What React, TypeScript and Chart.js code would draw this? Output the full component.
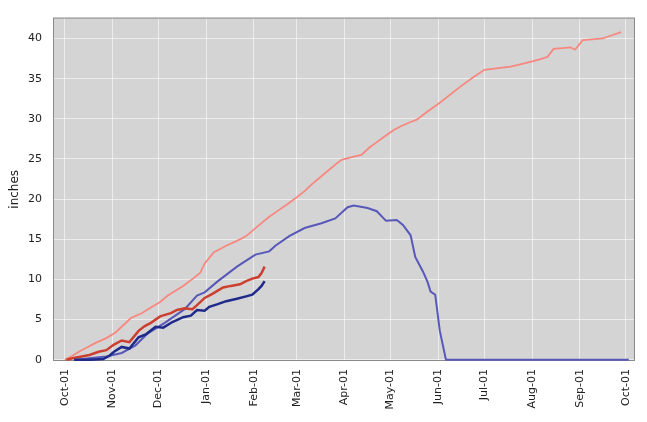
import React, { useEffect, useRef } from "react";
import { Chart, registerables } from "chart.js";

Chart.register(...registerables);

// Days since Oct-01
const monthTickDays = [0, 31, 61, 92, 123, 151, 182, 212, 243, 273, 304, 335, 365];
const monthLabels = ["Oct-01", "Nov-01", "Dec-01", "Jan-01", "Feb-01", "Mar-01", "Apr-01", "May-01", "Jun-01", "Jul-01", "Aug-01", "Sep-01", "Oct-01"];
const yTicks = [0, 5, 10, 15, 20, 25, 30, 35, 40];

const precipDays = [0, 5, 10, 15, 20, 27, 33, 38, 43, 50, 56, 62, 67, 72, 77, 84, 88, 91, 97, 101, 105, 112, 118, 126, 133, 139, 145, 150, 156, 161, 166, 171, 176, 180, 186, 193, 198, 203, 208, 214, 219, 225, 229, 236, 244, 252, 258, 266, 273, 282, 290, 295, 303, 309, 314, 318, 324, 329, 332, 337, 343, 350, 356, 362];
const precipValues = [0, 0.5, 1.1, 1.6, 2.1, 2.7, 3.4, 4.3, 5.2, 5.8, 6.5, 7.2, 8.0, 8.6, 9.2, 10.2, 10.8, 12.0, 13.4, 13.8, 14.2, 14.8, 15.4, 16.7, 17.8, 18.6, 19.4, 20.1, 21.0, 21.9, 22.7, 23.5, 24.3, 24.9, 25.2, 25.5, 26.4, 27.1, 27.8, 28.6, 29.1, 29.6, 29.9, 30.9, 32.0, 33.2, 34.1, 35.2, 36.1, 36.3, 36.5, 36.7, 37.1, 37.4, 37.7, 38.7, 38.8, 38.9, 38.6, 39.8, 39.9, 40.0, 40.4, 40.8];

const snowDays = [8, 16, 27, 37, 46, 54, 65, 78, 86, 91, 99, 112, 120, 124, 133, 137, 146, 156, 167, 176, 184, 188, 197, 203, 209, 216, 220, 225, 228, 233, 236, 238, 241, 244, 248, 367];
const snowValues = [0, 0.2, 0.4, 0.85, 1.8, 3.3, 4.6, 6.3, 8.0, 8.4, 9.7, 11.6, 12.6, 13.1, 13.5, 14.2, 15.4, 16.4, 17.0, 17.6, 19.0, 19.2, 18.9, 18.5, 17.3, 17.4, 16.8, 15.5, 12.8, 11.0, 9.7, 8.5, 8.1, 3.6, 0, 0];

const currentPrecipDays = [1, 5, 16, 22, 27, 32, 37, 42, 48, 52, 56, 62, 69, 73, 78, 83, 86, 91, 96, 103, 108, 114, 118, 122, 126, 128, 130];
const currentPrecipValues = [0, 0.2, 0.6, 1.0, 1.2, 1.9, 2.4, 2.2, 3.6, 4.2, 4.6, 5.4, 5.8, 6.2, 6.4, 6.3, 6.8, 7.7, 8.2, 9.0, 9.2, 9.4, 9.8, 10.1, 10.3, 10.8, 11.6];

const currentSnowDays = [6, 16, 25, 29, 32, 37, 42, 48, 53, 59, 64, 70, 77, 82, 86, 91, 94, 99, 105, 112, 118, 122, 126, 128, 130];
const currentSnowValues = [0, 0, 0.1, 0.5, 1.0, 1.6, 1.4, 2.8, 3.2, 4.1, 4.0, 4.7, 5.3, 5.5, 6.2, 6.1, 6.6, 6.9, 7.3, 7.6, 7.9, 8.1, 8.8, 9.2, 9.8];

const toPoints = (xs: number[], ys: number[]) => xs.map((x, i) => ({ x, y: ys[i] }));

const plotBg = {
  id: "plotBg",
  beforeDraw(chart: any) {
    const { ctx, chartArea } = chart;
    if (!chartArea) return;
    ctx.save();
    ctx.fillStyle = "#d4d4d4";
    ctx.fillRect(chartArea.left, chartArea.top, chartArea.right - chartArea.left, chartArea.bottom - chartArea.top);
    ctx.restore();
  },
  beforeDatasetsDraw(chart: any) {
    const { ctx, chartArea } = chart;
    ctx.save();
    ctx.strokeStyle = "#8a8a8a";
    ctx.lineWidth = 1;
    ctx.strokeRect(chartArea.left + 0.5, chartArea.top + 0.5, chartArea.right - chartArea.left - 1, chartArea.bottom - chartArea.top - 1);
    ctx.restore();
  },
};

export default function App() {
  const ref = useRef<HTMLCanvasElement | null>(null);
  useEffect(() => {
    document.body.style.margin = "0";
    const canvas = ref.current;
    if (!canvas) return;
    const font = "'DejaVu Sans', sans-serif";
    const chart = new Chart(canvas, {
      type: "line",
      data: {
        datasets: [
          {
            label: "snow current",
            data: toPoints(currentSnowDays, currentSnowValues),
            borderColor: "#1f2a8a",
            borderWidth: 2.5,
          },
          {
            label: "precip current",
            data: toPoints(currentPrecipDays, currentPrecipValues),
            borderColor: "#cc3f30",
            borderWidth: 2.5,
          },
          {
            label: "snow median",
            data: toPoints(snowDays, snowValues),
            borderColor: "#5858b8",
            borderWidth: 2,
          },
          {
            label: "precip median",
            data: toPoints(precipDays, precipValues),
            borderColor: "#f7877f",
            borderWidth: 1.8,
          },
        ],
      },
      options: {
        responsive: false,
        animation: false,
        layout: { padding: { top: 9, right: 2, left: 0, bottom: 0 } },
        elements: { point: { radius: 0 }, line: { tension: 0, fill: false } },
        plugins: { legend: { display: false }, tooltip: { enabled: false } },
        scales: {
          x: {
            type: "linear",
            min: -7.7,
            max: 371,
            afterBuildTicks: (scale: any) => {
              scale.ticks = monthTickDays.map((v) => ({ value: v }));
            },
            afterFit: (scale: any) => {
              scale.height = 61;
            },
            ticks: {
              autoSkip: false,
              maxRotation: 90,
              minRotation: 90,
              padding: 8,
              color: "#222",
              font: { family: font, size: 11 },
              callback: (value: any) => {
                const i = monthTickDays.indexOf(Number(value));
                return i >= 0 ? monthLabels[i] : "";
              },
            },
            grid: { color: "rgba(255,255,255,0.55)", lineWidth: 1, drawTicks: false },
            border: { display: false },
          },
          y: {
            type: "linear",
            min: -0.15,
            max: 42.6,
            afterBuildTicks: (scale: any) => {
              scale.ticks = yTicks.map((v) => ({ value: v }));
            },
            afterFit: (scale: any) => {
              scale.width = 53;
            },
            ticks: {
              padding: 11,
              color: "#222",
              font: { family: font, size: 11 },
              callback: (value: any) => String(value),
            },
            grid: { color: "rgba(255,255,255,0.55)", lineWidth: 1, drawTicks: false },
            border: { display: false },
            title: {
              display: true,
              text: "inches",
              color: "#222",
              font: { family: font, size: 12 },
              padding: { top: 8, bottom: 4 },
            },
          },
        },
      },
      plugins: [plotBg],
    } as any);
    return () => chart.destroy();
  }, []);
  return (
    <div style={{ width: 647, height: 422, background: "#fff" }}>
      <canvas ref={ref} width={647} height={422} style={{ display: "block" }} />
    </div>
  );
}
